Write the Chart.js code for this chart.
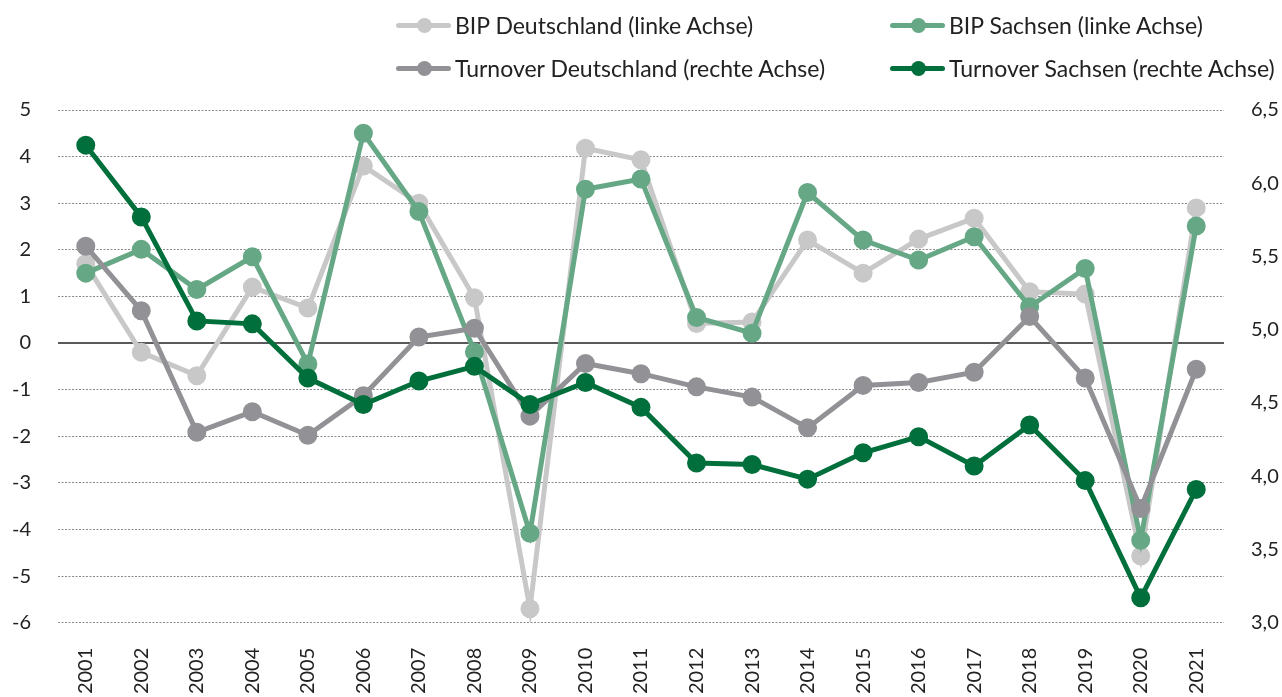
<!DOCTYPE html>
<html>
<head>
<meta charset="utf-8">
<script src="https://cdn.jsdelivr.net/npm/chart.js@4.4.1/dist/chart.umd.min.js"></script>
<style>
  html, body { margin: 0; padding: 0; background: #fff; }
  #wrap { position: relative; width: 1282px; height: 697px; overflow: hidden; }
  #wrap canvas { position: absolute; left: 0; top: 0; }
  .leg { position: absolute; display: flex; align-items: center; height: 26px; font-family: Lato, "Open Sans", sans-serif; font-size: 23px; color: #222; white-space: nowrap; }
  .sym { position: relative; width: 55px; height: 16px; margin-right: 4px; flex: none; }
  .sym .ln { position: absolute; left: 0; right: 0; top: 5.5px; height: 5px; border-radius: 3px; }
  .sym .dt { position: absolute; left: 20.5px; top: 0.5px; width: 15px; height: 15px; border-radius: 50%; }
</style>
</head>
<body>
<div id="wrap">
  <canvas id="c" width="1282" height="697"></canvas>
  <div id="legend"></div>
</div>
<script>
const years = ["2001","2002","2003","2004","2005","2006","2007","2008","2009","2010","2011","2012","2013","2014","2015","2016","2017","2018","2019","2020","2021"];
const bipDeutschland = [1.7, -0.2, -0.7, 1.2, 0.75, 3.8, 3.0, 0.97, -5.7, 4.18, 3.93, 0.42, 0.45, 2.21, 1.5, 2.23, 2.68, 1.1, 1.05, -4.57, 2.9];
const bipSachsen = [1.5, 2.01, 1.15, 1.85, -0.45, 4.5, 2.82, -0.19, -4.08, 3.3, 3.52, 0.55, 0.21, 3.23, 2.21, 1.78, 2.28, 0.78, 1.6, -4.23, 2.51];
const turnoverDeutschland = [5.57, 5.13, 4.30, 4.44, 4.28, 4.55, 4.95, 5.01, 4.41, 4.77, 4.70, 4.61, 4.54, 4.33, 4.62, 4.64, 4.71, 5.09, 4.67, 3.78, 4.73];
const turnoverSachsen = [6.26, 5.77, 5.06, 5.04, 4.67, 4.49, 4.65, 4.75, 4.49, 4.64, 4.47, 4.09, 4.08, 3.98, 4.16, 4.27, 4.07, 4.35, 3.97, 3.17, 3.91];
const leftTicks = { min: -6, max: 5, step: 1 };
const rightTicks = { min: 3.0, max: 6.5, step: 0.5 };

const seriesNames = ["BIP Deutschland (linke Achse)", "BIP Sachsen (linke Achse)", "Turnover Deutschland (rechte Achse)", "Turnover Sachsen (rechte Achse)"];
const seriesColors = ["#c8c8c9", "#66a886", "#929296", "#006f3b"];

// HTML legend
const legendPos = [[396, 25], [890, 25], [396, 68], [890, 68]];
const legendEl = document.getElementById('legend');
seriesNames.forEach((n, i) => {
  const d = document.createElement('div');
  d.className = 'leg';
  d.style.left = legendPos[i][0] + 'px';
  d.style.top = (legendPos[i][1] - 13) + 'px';
  d.innerHTML = '<span class="sym"><span class="ln" style="background:' + seriesColors[i] + '"></span><span class="dt" style="background:' + seriesColors[i] + '"></span></span><span>' + n + '</span>';
  legendEl.appendChild(d);
});

const FONT = { family: 'Lato, "Open Sans", sans-serif', size: 20 };

const mk = (label, data, color, axis, order) => ({
  label, data, yAxisID: axis, order,
  borderColor: color, backgroundColor: color,
  pointBackgroundColor: color, pointBorderColor: color,
  borderWidth: 5, pointRadius: 7, pointHoverRadius: 7,
  tension: 0, fill: false
});

const zeroLine = {
  id: 'zeroLine',
  beforeDatasetsDraw(chart) {
    const y = chart.scales.y.getPixelForValue(0);
    const { left, right } = chart.chartArea;
    const ctx = chart.ctx;
    ctx.save();
    ctx.strokeStyle = '#222';
    ctx.lineWidth = 1.6;
    ctx.beginPath();
    ctx.moveTo(left, y);
    ctx.lineTo(right, y);
    ctx.stroke();
    ctx.restore();
  }
};

new Chart(document.getElementById('c'), {
  type: 'line',
  data: {
    labels: years,
    datasets: [
      mk(seriesNames[0], bipDeutschland, seriesColors[0], 'y', 3),
      mk(seriesNames[1], bipSachsen, seriesColors[1], 'y', 2),
      mk(seriesNames[2], turnoverDeutschland, seriesColors[2], 'y1', 1),
      mk(seriesNames[3], turnoverSachsen, seriesColors[3], 'y1', 0)
    ]
  },
  options: {
    responsive: false,
    animation: false,
    layout: { padding: { top: 110, bottom: 0, left: 0, right: 0 } },
    plugins: { legend: { display: false }, tooltip: { enabled: false } },
    scales: {
      x: {
        offset: true,
        grid: { display: false, drawTicks: false },
        border: { display: false },
        ticks: { font: FONT, color: '#222', maxRotation: 90, minRotation: 90, padding: 25, autoSkip: false },
        afterFit(s) { s.height = 74.3; }
      },
      y: {
        position: 'left',
        min: leftTicks.min, max: leftTicks.max,
        ticks: { stepSize: leftTicks.step, font: FONT, color: '#222', padding: 27 },
        grid: {
          drawTicks: false,
          color: (c) => c.tick && c.tick.value === 0 ? 'rgba(0,0,0,0)' : '#8a8a8a',
          lineWidth: 1
        },
        border: { display: false, dash: [2, 1.5] },
        afterFit(s) { s.width = 58; }
      },
      y1: {
        position: 'right',
        min: rightTicks.min, max: rightTicks.max,
        ticks: { stepSize: rightTicks.step, font: FONT, color: '#222', padding: 27,
          callback: (v) => Number(v).toFixed(1).replace('.', ',') },
        grid: { drawOnChartArea: false, drawTicks: false },
        border: { display: false },
        afterFit(s) { s.width = 58; }
      }
    }
  },
  plugins: [zeroLine]
});
</script>
</body>
</html>
